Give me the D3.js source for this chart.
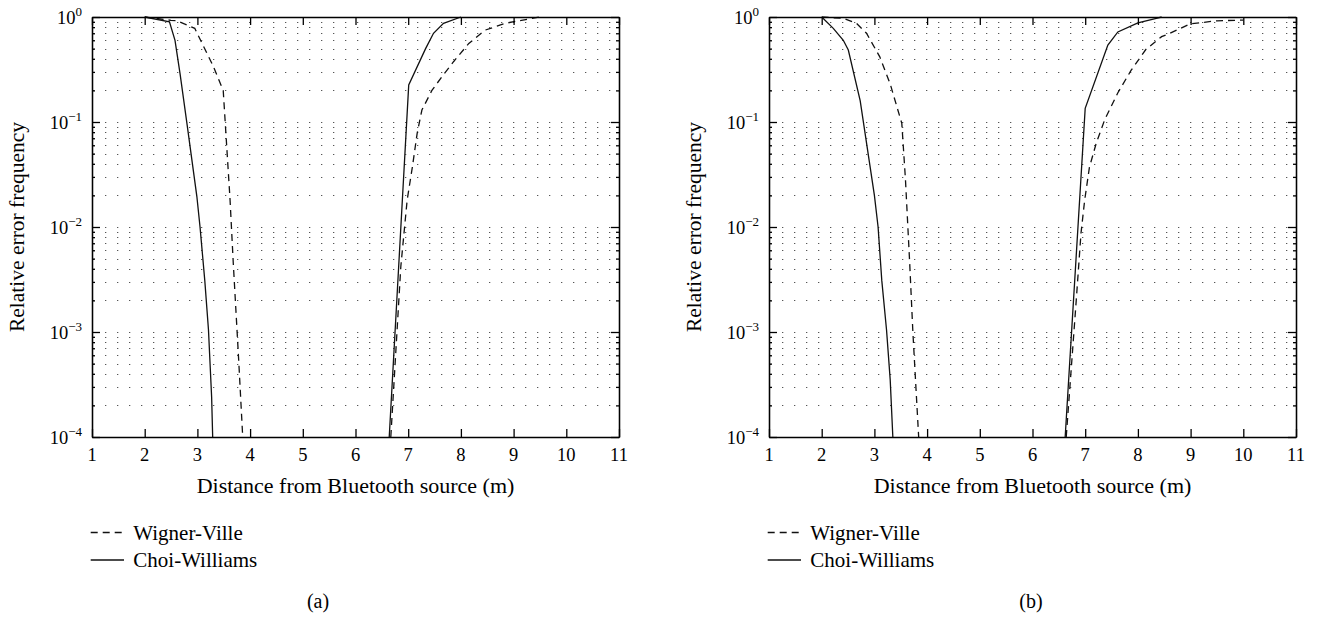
<!DOCTYPE html>
<html><head><meta charset="utf-8">
<script src="https://cdn.jsdelivr.net/npm/d3@7"></script>
<style>body{margin:0;background:#fff}</style>
</head><body><svg id="c" width="1319" height="617"></svg>
<script>
// ---- texts / ticks ----
const xTicks = [1,2,3,4,5,6,7,8,9,10,11];
const yDecades = [0,-1,-2,-3,-4];
const xTitle = "Distance from Bluetooth source (m)";
const yTitle = "Relative error frequency";
const legendLabels = ["Wigner-Ville","Choi-Williams"];
const panelTags = ["(a)","(b)"];

// ---- panel (a) ----
const aWV1x = [2.0, 2.5, 2.61, 2.95, 3.30, 3.49, 3.62, 3.68, 3.78, 3.86];
const aWV1y = [1.0, 0.93, 0.92, 0.78, 0.34, 0.20, 0.018, 0.0046, 0.00058, 1e-4];
const aWV2x = [6.67, 6.86, 6.98, 7.08, 7.17, 7.26, 7.45, 7.64, 7.86, 8.15, 8.46, 8.84, 9.15, 9.5];
const aWV2y = [1e-4, 0.0042, 0.018, 0.0375, 0.078, 0.13, 0.20, 0.27, 0.375, 0.56, 0.75, 0.87, 0.93, 1.0];
const aCW1x = [2.0, 2.47, 2.575, 2.67, 2.80, 2.99, 3.05, 3.14, 3.21, 3.27, 3.29];
const aCW1y = [1.0, 0.90, 0.60, 0.29, 0.098, 0.0195, 0.01, 0.0031, 0.00105, 0.00024, 1e-4];
const aCW2x = [6.64, 7.01, 7.33, 7.48, 7.67, 8.0];
const aCW2y = [1e-4, 0.225, 0.50, 0.70, 0.87, 1.0];

// ---- panel (b) ----
const bWV1x = [2.0, 2.41, 2.66, 2.85, 3.1, 3.30, 3.52, 3.59, 3.67, 3.73, 3.84];
const bWV1y = [1.0, 0.97, 0.87, 0.70, 0.42, 0.23, 0.097, 0.028, 0.0045, 0.001, 1e-4];
const bWV2x = [6.64, 6.83, 6.92, 6.99, 7.08, 7.21, 7.37, 7.62, 7.87, 8.15, 8.45, 8.61, 8.99, 9.5, 10.0];
const bWV2y = [1e-4, 0.002, 0.0087, 0.018, 0.037, 0.063, 0.105, 0.19, 0.31, 0.49, 0.65, 0.70, 0.86, 0.92, 0.935];
const bCW1x = [2.0, 2.22, 2.41, 2.505, 2.73, 3.0, 3.07, 3.14, 3.23, 3.30, 3.35];
const bCW1y = [1.0, 0.78, 0.60, 0.485, 0.16, 0.02, 0.01, 0.0031, 0.00105, 0.00035, 1e-4];
const bCW2x = [6.62, 7.0, 7.43, 7.62, 8.0, 8.35, 8.45];
const bCW2y = [1e-4, 0.135, 0.54, 0.72, 0.88, 0.97, 1.0];

const FONT = "'Liberation Serif', serif";
const svg = d3.select("#c");
svg.append("rect").attr("width",1319).attr("height",617).attr("fill","#fff");

const zip = (xs, ys) => xs.map((v,i)=>[v, ys[i]]);

function drawPanel(idx, left, right, top, bottom, wv, cw, tagX) {
  const x = d3.scaleLinear().domain([1,11]).range([left,right]);
  const y = d3.scaleLog().domain([1e-4,1]).range([bottom,top]);
  const g = svg.append("g");
  const clipId = "clip"+idx;
  g.append("clipPath").attr("id",clipId).append("rect")
    .attr("x",left).attr("y",top-1).attr("width",right-left).attr("height",bottom-top+2);

  // dotted grid
  const minorVals = [];
  for (const e of [-4,-3,-2,-1]) for (let k=2;k<=9;k++) minorVals.push(k*Math.pow(10,e));
  const gridVals = minorVals.concat([1e-1,1e-2,1e-3]);
  g.append("g").selectAll("line").data(gridVals).join("line")
    .attr("x1", x(1)+1).attr("x2", x(11))
    .attr("y1", d=>Math.round(y(d))+0.5).attr("y2", d=>Math.round(y(d))+0.5)
    .attr("stroke","#555").attr("stroke-width",1.2)
    .attr("stroke-dasharray","1.3,10.7");

  // data lines
  const line = d3.line().x(d=>x(d[0])).y(d=>y(d[1]));
  const lines = g.append("g").attr("clip-path",`url(#${clipId})`);
  wv.forEach(s => lines.append("path").attr("d", line(s)).attr("fill","none")
    .attr("stroke","#111").attr("stroke-width",1.3).attr("stroke-dasharray","7,5"));
  cw.forEach(s => lines.append("path").attr("d", line(s)).attr("fill","none")
    .attr("stroke","#111").attr("stroke-width",1.3));

  // axes
  const style = sel => { sel.selectAll("path,line").attr("stroke","#000").attr("stroke-width",1.3);
    sel.selectAll("text").remove(); };
  const decadeVals = yDecades.map(e=>Math.pow(10,e));

  g.append("g").attr("transform",`translate(0,${bottom})`)
    .call(d3.axisBottom(x).tickValues(xTicks).tickSize(-8).tickSizeOuter(0).tickFormat(""))
    .call(style);
  g.append("g").attr("transform",`translate(0,${top})`)
    .call(d3.axisTop(x).tickValues(xTicks).tickSize(-8).tickSizeOuter(0).tickFormat(""))
    .call(style);
  g.append("g").attr("transform",`translate(${left},0)`)
    .call(d3.axisLeft(y).tickValues(decadeVals).tickSize(-8).tickSizeOuter(0).tickFormat(""))
    .call(style);
  g.append("g").attr("transform",`translate(${right},0)`)
    .call(d3.axisRight(y).tickValues(decadeVals).tickSize(-8).tickSizeOuter(0).tickFormat(""))
    .call(style);
  g.append("g").attr("transform",`translate(${left},0)`)
    .call(d3.axisLeft(y).tickValues(minorVals).tickSize(-3).tickSizeOuter(0).tickFormat(""))
    .call(style);
  g.append("g").attr("transform",`translate(${right},0)`)
    .call(d3.axisRight(y).tickValues(minorVals).tickSize(-3).tickSizeOuter(0).tickFormat(""))
    .call(style);

  // x tick labels
  g.append("g").selectAll("text").data(xTicks).join("text")
    .attr("x", d=>x(d)).attr("y", bottom+24)
    .attr("text-anchor","middle").attr("font-family",FONT).attr("font-size",18.5)
    .text(d=>d);
  // y tick labels
  const yl = g.append("g").selectAll("text").data(yDecades).join("text")
    .attr("x", left-10).attr("y", d=>y(Math.pow(10,d))+7)
    .attr("text-anchor","end").attr("font-family",FONT).attr("font-size",18.5);
  yl.append("tspan").text("10");
  yl.append("tspan").attr("dy",-8).attr("font-size",13)
    .text(d => d===0 ? "0" : "\u2212"+Math.abs(d));

  // titles
  g.append("text").attr("x",(left+right)/2).attr("y",bottom+56)
    .attr("text-anchor","middle").attr("font-family",FONT).attr("font-size",22).text(xTitle);
  g.append("text").attr("transform",`translate(${left-68},${(top+bottom)/2}) rotate(-90)`)
    .attr("text-anchor","middle").attr("font-family",FONT).attr("font-size",21.5).text(yTitle);

  // legend
  const lg = g.append("g");
  [0,1].forEach(i => {
    const ly = [532.5, 560][i];
    lg.append("line").attr("x1",left-1.3).attr("x2",left+32).attr("y1",ly).attr("y2",ly)
      .attr("stroke","#111").attr("stroke-width",1.3)
      .attr("stroke-dasharray", i===0 ? "7,5" : null);
    lg.append("text").attr("x",left+41.3).attr("y",[539.5,566.5][i])
      .attr("font-family",FONT).attr("font-size",21).text(legendLabels[i]);
  });

  // tag
  g.append("text").attr("x",tagX).attr("y",608).attr("text-anchor","middle")
    .attr("font-family",FONT).attr("font-size",20).text(panelTags[idx]);
}

drawPanel(0, 92, 619, 17, 437,
  [zip(aWV1x,aWV1y), zip(aWV2x,aWV2y)], [zip(aCW1x,aCW1y), zip(aCW2x,aCW2y)], 318);
drawPanel(1, 769, 1296, 17, 437,
  [zip(bWV1x,bWV1y), zip(bWV2x,bWV2y)], [zip(bCW1x,bCW1y), zip(bCW2x,bCW2y)], 1031);
</script></body></html>
